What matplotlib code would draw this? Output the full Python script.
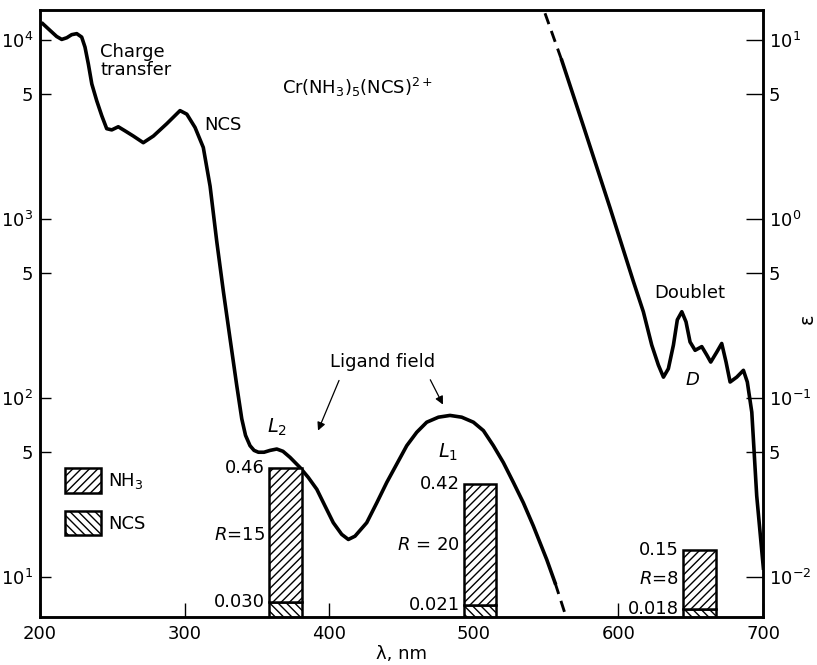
import matplotlib
matplotlib.use("Agg")
import matplotlib.pyplot as plt
from matplotlib.patches import Patch

plt.rcParams["font.family"] = ["DejaVu Sans"]
plt.rcParams["mathtext.default"] = "regular"
plt.rcParams["hatch.linewidth"] = 1.0

# absorption spectrum, epsilon (left scale)
wl_uv = [201.9, 206.9, 211.5, 215.0, 218.5, 221.9, 225.4, 228.8, 231.1, 233.4,
         235.8, 239.2, 242.7, 246.1, 249.6, 254.1, 258.8, 264.5, 271.4, 278.4,
         287.6, 296.8, 301.5, 307.2, 312.9, 317.6, 322.2, 326.8, 331.4, 336.0,
         339.5, 342.1, 345.2, 348.0, 351.0, 354.9, 359.1, 363.7, 368.0, 372.9,
         379.8, 385.5, 391.4, 397.1, 402.8, 408.6, 413.2, 417.8, 425.9, 432.9,
         439.8, 446.7, 453.6, 460.5, 467.4, 475.5, 483.5, 491.6, 499.7, 506.6,
         513.5, 520.4, 527.3, 534.2, 541.1, 550.4, 556.2]
eps_uv = [12400, 11380, 10520, 10130, 10350, 10770, 10910, 10440, 9170, 7390,
          5710, 4600, 3790, 3210, 3160, 3290, 3120, 2920, 2680, 2920,
          3420, 4050, 3870, 3260, 2520, 1530, 752, 394, 215, 118,
          76.6, 61.9, 54.2, 51.0, 49.8, 49.8, 51.0, 51.9, 50.4, 46.6,
          40.9, 36.0, 30.9, 24.9, 20.1, 17.3, 16.2, 16.9, 20.1, 26.0,
          33.8, 42.8, 54.2, 64.4, 73.3, 78.2, 80.0, 78.2, 73.3, 65.8,
          54.2, 43.6, 33.8, 26.0, 19.3, 12.5, 9.25]
wl_uv_dash = [556.2, 564.5]
eps_uv_dash = [9.25, 5.73]

# red part (x1000 scale on the left, real epsilon on the right)
wl_red_dash = [549.2, 560.8]
eps_red_dash = [14190, 7730]
wl_red = [560.8, 575.7, 594.2, 610.3, 617.2, 623.0, 627.6, 631.1, 634.5, 638.0,
          640.7, 643.8, 646.7, 649.5, 653.0, 657.6, 661.1, 663.8, 668.0, 671.4,
          674.4, 677.2, 681.8, 686.4, 689.1, 692.2, 695.6, 700.2]
eps_red = [7730, 3330, 1156, 449, 304, 198, 153, 131, 146, 198,
           274, 304, 267, 206, 185, 194, 174, 159, 181, 202,
           159, 123, 131, 143, 123, 83.4, 28.4, 11.2]

# quantum yield bars
bar_center = [369.7, 504.2, 656.1]
bar_width = [22.6, 22.4, 22.8]
bar_top = [40.5, 32.9, 14.2]
bar_ncs_top = [7.24, 6.97, 6.6]
nh3_labels = ["0.46", "0.42", "0.15"]
ncs_labels = ["0.030", "0.021", "0.018"]
r_labels = [r"$\mathit{R}$=15", r"$\mathit{R}$ = 20", r"$\mathit{R}$=8"]

left_ticks = [10, 50, 100, 500, 1000, 5000, 10000]
left_ticklabels = ["$10^1$", "5", "$10^2$", "5", "$10^3$", "5", "$10^4$"]
right_ticks = [0.01, 0.05, 0.1, 0.5, 1, 5, 10]
right_ticklabels = ["$10^{-2}$", "5", "$10^{-1}$", "5", "$10^0$", "5", "$10^1$"]
x_ticks = [200, 300, 400, 500, 600, 700]

ymin, ymax = 5.96, 14800

fig = plt.figure(figsize=(8.17, 6.65), dpi=100)
ax = fig.add_axes([0.049, 0.072, 0.885, 0.913])
ax.set_yscale("log")
ax.set_xlim(200, 700)
ax.set_ylim(ymin, ymax)

lw = 2.6
ax.plot(wl_uv, eps_uv, color="black", lw=lw, solid_joinstyle="round")
ax.plot(wl_uv_dash, eps_uv_dash, color="black", lw=lw * 0.8, ls=(0, (4, 2.5)))
ax.plot(wl_red_dash, eps_red_dash, color="black", lw=lw * 0.8, ls=(0, (4, 2.5)))
ax.plot(wl_red, eps_red, color="black", lw=lw, solid_joinstyle="round")

# stacked hatched bars
for i in range(len(bar_center)):
    ax.bar(bar_center[i], bar_ncs_top[i] - ymin, bottom=ymin, width=bar_width[i],
           facecolor="white", edgecolor="black", lw=1.8, hatch="\\\\\\\\", zorder=3)
    ax.bar(bar_center[i], bar_top[i] - bar_ncs_top[i], bottom=bar_ncs_top[i],
           width=bar_width[i], facecolor="white", edgecolor="black", lw=1.8,
           hatch="////", zorder=3)
    xl = bar_center[i] - bar_width[i] / 2
    ax.annotate(nh3_labels[i], (xl, bar_top[i]), xytext=(-3, 0),
                textcoords="offset points", ha="right", va="center", fontsize=13)
    ax.annotate(ncs_labels[i], (xl, bar_ncs_top[i]), xytext=(-3, 0),
                textcoords="offset points", ha="right", va="center", fontsize=13)
    ymid = (bar_top[i] * bar_ncs_top[i]) ** 0.5
    ax.annotate(r_labels[i], (xl, ymid), xytext=(-3, 0),
                textcoords="offset points", ha="right", va="center", fontsize=13)

# ticks
ax.set_yticks(left_ticks)
ax.set_yticklabels(left_ticklabels)
ax.yaxis.set_minor_locator(matplotlib.ticker.NullLocator())
ax.set_xticks(x_ticks)
ax.tick_params(axis="y", direction="in", length=8, width=1, labelsize=13, pad=5)
ax.tick_params(axis="x", direction="in", length=10, width=1, labelsize=13, pad=6)
for s in ax.spines.values():
    s.set_linewidth(1.8)
ax.set_xlabel("λ, nm", fontsize=13, labelpad=1)

ax2 = ax.twinx()
ax2.set_yscale("log")
ax2.set_ylim(ymin / 1000, ymax / 1000)
ax2.set_yticks(right_ticks)
ax2.set_yticklabels(right_ticklabels)
ax2.yaxis.set_minor_locator(matplotlib.ticker.NullLocator())
ax2.tick_params(axis="y", direction="in", length=12, width=1, labelsize=13, pad=4)
for s in ax2.spines.values():
    s.set_linewidth(1.8)

# epsilon label at the far right
fig.text(0.988, 0.52, "ε", fontsize=14, rotation=90, ha="center", va="center")

# legend
handles = [Patch(facecolor="white", edgecolor="black", lw=1.8, hatch="////", label="NH$_3$"),
           Patch(facecolor="white", edgecolor="black", lw=1.8, hatch="\\\\\\\\", label="NCS")]
ax.legend(handles=handles, loc="upper left", bbox_to_anchor=(0.035, 0.245),
          frameon=False, fontsize=13, handlelength=1.95, handleheight=1.7,
          handletextpad=0.4, labelspacing=1.0, borderpad=0, borderaxespad=0)

# annotations
t = ax.transAxes
ax.text(0.083, 0.916, "Charge\ntransfer", transform=t, fontsize=13,
        ha="left", va="center", linespacing=0.95)
ax.text(0.227, 0.811, "NCS", transform=t, fontsize=13, ha="left", va="center")
ax.text(0.335, 0.873, r"Cr(NH$_3$)$_5$(NCS)$^{2+}$", transform=t, fontsize=13,
        ha="left", va="center")
ax.text(0.474, 0.420, "Ligand field", transform=t, fontsize=13, ha="center", va="center")
ax.annotate("", xy=(0.383, 0.303), xytext=(0.415, 0.394), xycoords=t, textcoords=t,
            arrowprops=dict(arrowstyle="-|>", lw=0.9, color="black", mutation_scale=12))
ax.annotate("", xy=(0.559, 0.346), xytext=(0.538, 0.395), xycoords=t, textcoords=t,
            arrowprops=dict(arrowstyle="-|>", lw=0.9, color="black", mutation_scale=12))
ax.text(0.328, 0.313, r"$\mathit{L}_2$", transform=t, fontsize=14, ha="center", va="center")
ax.text(0.564, 0.272, r"$\mathit{L}_1$", transform=t, fontsize=14, ha="center", va="center")
ax.text(0.899, 0.534, "Doublet", transform=t, fontsize=13, ha="center", va="center")
ax.text(0.903, 0.390, r"$\mathit{D}$", transform=t, fontsize=13, ha="center", va="center")

fig.savefig("out.png", dpi=100)
